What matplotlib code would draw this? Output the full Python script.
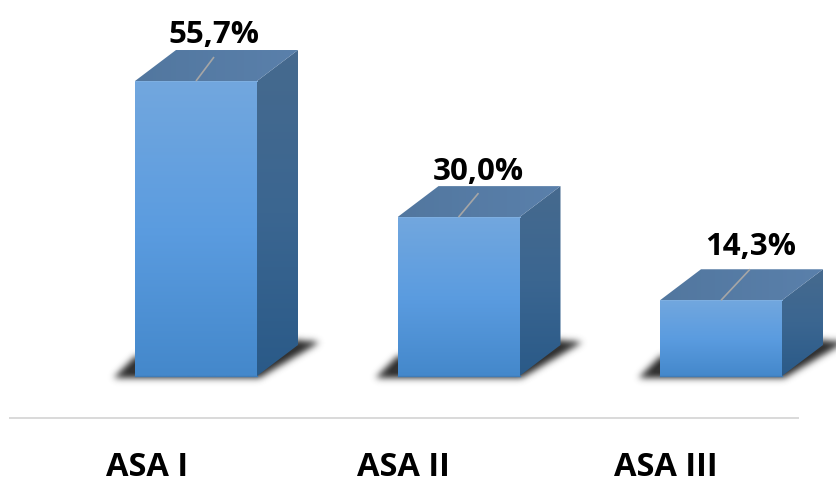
import numpy as np
import matplotlib
matplotlib.use("Agg")
import matplotlib.pyplot as plt
from matplotlib.colors import LinearSegmentedColormap
from matplotlib.path import Path
from matplotlib.patches import PathPatch

categories = ["ASA I", "ASA II", "ASA III"]
values = [55.7, 30.0, 14.3]
value_labels = ["55,7%", "30,0%", "14,3%"]

# Layout constants, in pixels of the 836x478 canvas
W, H = 836, 478
BASE_Y = 376
PX_PER_UNIT = 5.296
FIRST_X = 196
STEP_X = 262.5
BAR_W = 122
DEPTH_X, DEPTH_Y = 41, 31
AXIS_Y = 418

leader_offsets = [(18, -24), (20, -24), (29, -31)]
label_offsets = [(18, -38), (20, -37.5), (30, -45)]
tick_label_x = [147, 403, 666]
TICK_BASELINE_Y = 476

plt.rcParams["font.family"] = ["Open Sans", "DejaVu Sans"]

fig = plt.figure(figsize=(W / 100, H / 100), dpi=100)
ax = fig.add_axes([0, 0, 1, 1])
ax.set_xlim((0 - FIRST_X) / STEP_X, (W - FIRST_X) / STEP_X)
ax.set_ylim((BASE_Y - H) / PX_PER_UNIT, BASE_Y / PX_PER_UNIT)
ax.axis("off")


def to_px(i, v):
    return FIRST_X + i * STEP_X, BASE_Y - v * PX_PER_UNIT


def to_data(px, py):
    return (px - FIRST_X) / STEP_X, (BASE_Y - py) / PX_PER_UNIT


def shaded_polygon(points_px, colors, zorder, horizontal=False):
    """Fill a polygon given in pixels with a linear gradient."""
    pts = [to_data(*p) for p in points_px]
    cmap = LinearSegmentedColormap.from_list("face", colors)
    xs, ys = zip(*pts)
    grad = np.linspace(0, 1, 256)
    grad = grad[None, :] if horizontal else grad[:, None]
    img = ax.imshow(grad, cmap=cmap, aspect="auto", origin="upper",
                    extent=(min(xs), max(xs), min(ys), max(ys)),
                    zorder=zorder, interpolation="bilinear")
    clip = PathPatch(Path(pts + [pts[0]]), transform=ax.transData,
                     fc="none", ec="none")
    ax.add_patch(clip)
    img.set_clip_path(clip)


def blur(a, sigma):
    r = int(3 * sigma)
    kernel = np.exp(-0.5 * (np.arange(-r, r + 1) / sigma) ** 2)
    kernel /= kernel.sum()
    a = np.apply_along_axis(lambda m: np.convolve(m, kernel, mode="same"), 0, a)
    return np.apply_along_axis(lambda m: np.convolve(m, kernel, mode="same"), 1, a)


# Soft drop shadows on the floor, rendered into a single translucent layer
yy, xx = np.mgrid[0:H, 0:W + 40]
grid = np.column_stack([xx.ravel() + 0.5, yy.ravel() + 0.5])
mask = np.zeros(xx.shape)
for i in range(len(values)):
    cx, _ = to_px(i, 0)
    left, right = cx - BAR_W / 2, cx + BAR_W / 2
    poly = Path([(left - 22, BASE_Y + 2), (right + 2, BASE_Y + 2),
                 (right + DEPTH_X + 22, BASE_Y - DEPTH_Y - 3),
                 (right + DEPTH_X - 2, BASE_Y - DEPTH_Y - 5),
                 (right, BASE_Y - 20), (left, BASE_Y - 20)])
    mask = np.maximum(mask, poly.contains_points(grid).reshape(xx.shape).astype(float))
mask = blur(mask, 3.4)[:, :W]
rgba = np.zeros((H, W, 4))
rgba[..., :3] = 0.2
rgba[..., 3] = np.clip(mask * 1.05, 0, 1)
ax.imshow(rgba, extent=ax.get_xlim() + ax.get_ylim(), origin="upper",
          aspect="auto", zorder=1)
ax.set_xlim((0 - FIRST_X) / STEP_X, (W - FIRST_X) / STEP_X)
ax.set_ylim((BASE_Y - H) / PX_PER_UNIT, BASE_Y / PX_PER_UNIT)

for i, v in enumerate(values):
    cx, top = to_px(i, v)
    left, right = cx - BAR_W / 2, cx + BAR_W / 2

    # Right-hand side face
    shaded_polygon([(right, top), (right + DEPTH_X, top - DEPTH_Y),
                    (right + DEPTH_X, BASE_Y - DEPTH_Y), (right, BASE_Y)],
                   ["#466a8e", "#3b6691", "#2a5a88"], 2)
    # Top face
    shaded_polygon([(left, top), (right, top), (right + DEPTH_X, top - DEPTH_Y),
                    (left + DEPTH_X, top - DEPTH_Y)],
                   ["#52779f", "#5a80ab"], 2, horizontal=True)
    # Front face
    shaded_polygon([(left, top), (right, top), (right, BASE_Y), (left, BASE_Y)],
                   ["#72a7de", "#5b9ce0", "#4488cb"], 3)
    # Thin light rim on the front face and darker floor edge
    fx = [to_data(left, top)[0], to_data(right, top)[0]]
    ax.plot(fx, [v, v], color="#7fb0e2", lw=0.7, zorder=4)
    ax.plot(fx, [0, 0], color="#3f7cb8", lw=1.0, zorder=4)

    # Leader line and value label
    lx, ly = leader_offsets[i]
    x0, y0 = to_data(cx, top)
    x1, y1 = to_data(cx + lx, top + ly)
    ax.plot([x0, x1], [y0, y1], color="#a6a6a6", lw=1.2, zorder=5,
            solid_capstyle="butt")
    tx, ty = label_offsets[i]
    ax.text(*to_data(cx + tx, top + ty), value_labels[i], ha="center",
            va="baseline", fontsize=22.5, fontweight="bold", color="black", zorder=6)

    # Category label below the axis line
    ax.text(*to_data(tick_label_x[i], TICK_BASELINE_Y), categories[i], ha="center",
            va="baseline", fontsize=23.5, fontweight="bold", color="black", zorder=6)

# Category axis line
ax.plot([to_data(10, 0)[0], to_data(798, 0)[0]],
        [to_data(0, AXIS_Y)[1]] * 2, color="#d9d9d9", lw=1.4, zorder=1)

fig.savefig("out.png", dpi=100, facecolor="white")
